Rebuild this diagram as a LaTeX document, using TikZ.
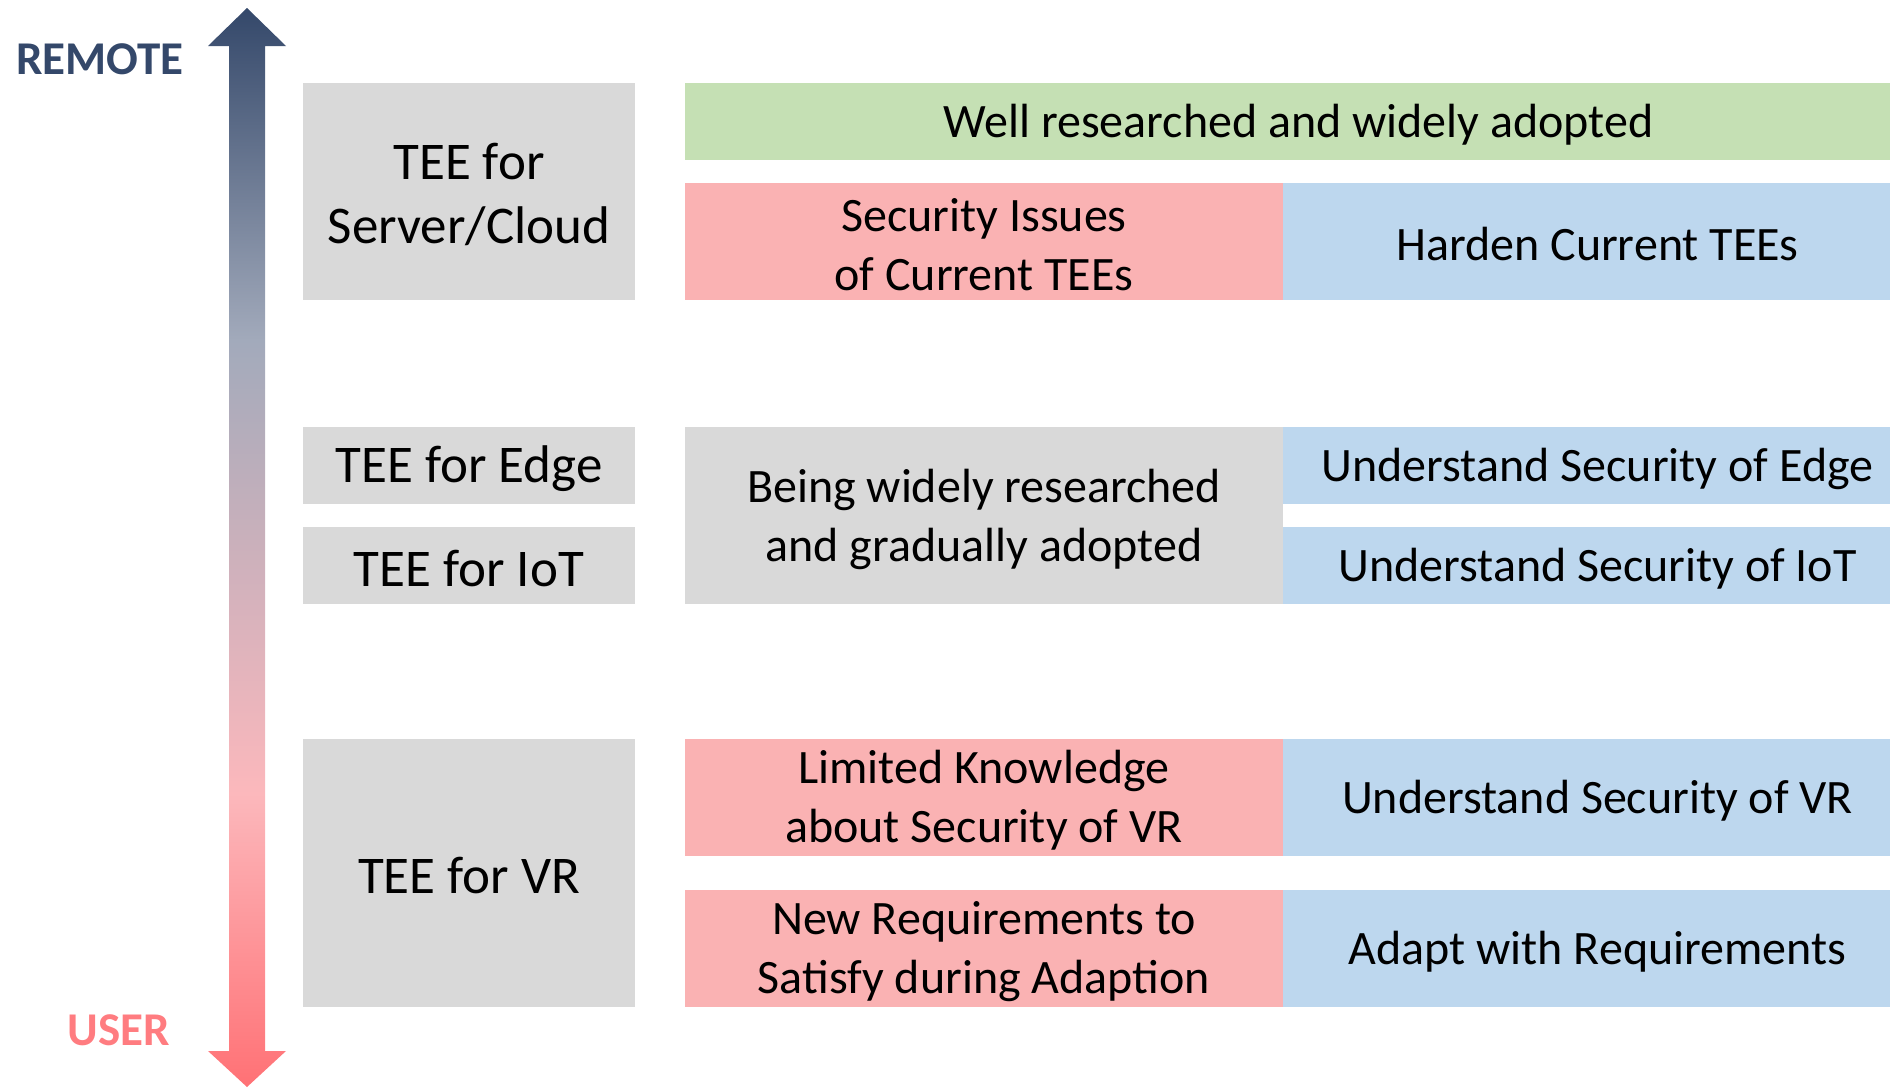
\documentclass[tikz,border=0pt]{standalone}
\usepackage{fontspec}
\setmainfont{Carlito}
\definecolor{cgray}{HTML}{D9D9D9}
\definecolor{cgreen}{HTML}{C5E0B4}
\definecolor{cpink}{HTML}{FAB2B3}
\definecolor{cblue}{HTML}{BDD7EE}
\definecolor{cnavy}{HTML}{34486A}
\definecolor{cslate}{HTML}{A2AABB}
\definecolor{cpinkmid}{HTML}{FCB8BC}
\definecolor{cred}{HTML}{FF7175}
\definecolor{cuser}{HTML}{FF7C80}
\pgfdeclareverticalshading{axisfade}{100bp}{%
  color(0bp)=(cred); color(25bp)=(cred);
  color(38.6bp)=(cpinkmid);
  color(59.6bp)=(cslate);
  color(75bp)=(cnavy); color(100bp)=(cnavy)}
\tikzset{
  cell/.style={anchor=north west, inner sep=0pt, outer sep=0pt},
  leftcell/.style={cell, fill=cgray, minimum width=332pt},
  txt/.style={inner sep=0pt, align=center, text=black,
    font=\fontsize{48}{59}\selectfont},
  lefttxt/.style={txt, font=\fontsize{53}{64}\selectfont},
  endlabel/.style={anchor=base, inner sep=0pt, font=\fontsize{47}{56}\selectfont\bfseries},
}
\begin{document}
\begin{tikzpicture}[x=1pt,y=-1pt]
\useasboundingbox (0,0) rectangle (1890,1087);
\clip (0,0) rectangle (1890,1087);

% double-headed axis from user to remote
\coordinate (tipTop) at (247,8);
\coordinate (tipBot) at (247,1087);
\shade[shading=axisfade]
  (tipTop) -- (286,46) -- (265,46) -- (265,1051) -- (286,1051) -- (tipBot)
  -- (208,1051) -- (229,1051) -- (229,46) -- (208,46) -- cycle;
\node[endlabel, text=cnavy] (remote) at (100,74) {REMOTE};
\node[endlabel, text=cuser] (user) at (119,1045) {USER};

% left column: deployment targets
\node[leftcell, minimum height=217pt] (server) at (303,83) {};
\node[leftcell, minimum height=77pt] (edge) at (303,427) {};
\node[leftcell, minimum height=77pt] (iot) at (303,527) {};
\node[leftcell, minimum height=268pt] (vr) at (303,739) {};
\node[lefttxt] (server-t) at ([yshift=-3pt]server.center) {TEE for\\Server/Cloud};
\node[lefttxt] (edge-t) at ([yshift=-3pt]edge.center) {TEE for Edge};
\node[lefttxt] (iot-t) at ([yshift=-3pt]iot.center) {TEE for IoT};
\node[lefttxt] (vr-t) at ([yshift=-3pt]vr.center) {TEE for VR};

% server / cloud row
\node[cell, fill=cgreen, minimum width=1227pt, minimum height=77pt] (wellres) at (685,83) {};
\node[cell, fill=cpink, minimum width=598pt, minimum height=117pt] (secissue) at (685,183) {};
\node[cell, fill=cblue, minimum width=629pt, minimum height=117pt] (harden) at (1283,183) {};

% edge / IoT row
\node[cell, fill=cgray, minimum width=598pt, minimum height=177pt] (being) at (685,427) {};
\node[cell, fill=cblue, minimum width=629pt, minimum height=77pt] (usedge) at (1283,427) {};
\node[cell, fill=cblue, minimum width=629pt, minimum height=77pt] (usiot) at (1283,527) {};

% VR row
\node[cell, fill=cpink, minimum width=598pt, minimum height=117pt] (limited) at (685,739) {};
\node[cell, fill=cblue, minimum width=629pt, minimum height=117pt] (usvr) at (1283,739) {};
\node[cell, fill=cpink, minimum width=598pt, minimum height=117pt] (newreq) at (685,890) {};
\node[cell, fill=cblue, minimum width=629pt, minimum height=117pt] (adapt) at (1283,890) {};

% cell texts
\node[txt] (wellres-t) at ([yshift=-3pt]wellres.center) {Well researched and widely adopted};
\node[txt] (secissue-t) at ([yshift=-3pt]secissue.center) {Security Issues\\of Current TEEs};
\node[txt] (harden-t) at ([yshift=-3pt]harden.center) {Harden Current TEEs};
\node[txt] (being-t) at ([yshift=-4pt]being.center) {Being widely researched\\and gradually adopted};
\node[txt] (usedge-t) at ([yshift=-3pt]usedge.center) {Understand Security of Edge};
\node[txt] (usiot-t) at ([yshift=-3pt]usiot.center) {Understand Security of IoT};
\node[txt] (limited-t) at ([yshift=-3pt]limited.center) {Limited Knowledge\\about Security of VR};
\node[txt] (usvr-t) at ([yshift=-3pt]usvr.center) {Understand Security of VR};
\node[txt] (newreq-t) at ([yshift=-3pt]newreq.center) {New Requirements to\\Satisfy during Adaption};
\node[txt] (adapt-t) at ([yshift=-3pt]adapt.center) {Adapt with Requirements};
\end{tikzpicture}
\end{document}
